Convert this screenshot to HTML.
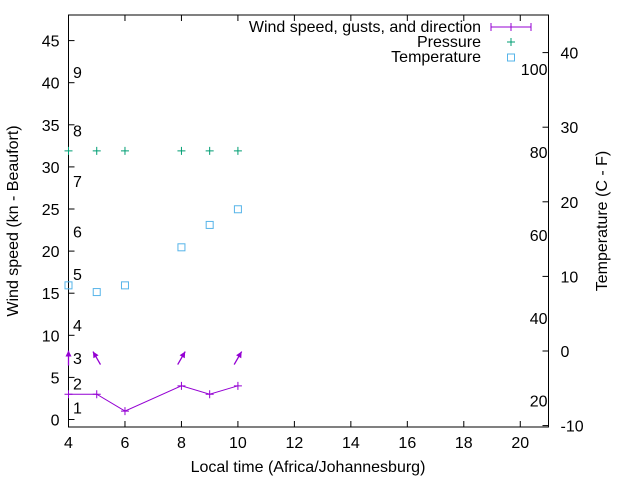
<!DOCTYPE html>
<html><head><meta charset="utf-8"><style>body{margin:0;background:#fff}svg{display:block;font-family:"Liberation Sans",sans-serif}</style></head>
<body>
<svg id="c" width="640" height="480" xmlns="http://www.w3.org/2000/svg"></svg>
<script>
const hours=[4,5,6,8,9,10];
const windKn=[3,3,1,4,3,4];
const pressureW=[31.9,31.9,31.9,31.9,31.9,31.9];
const tempC=[8.8,7.9,8.8,13.9,16.9,19.0];
const arrowHours=[4,5,8,10];
const arrowDir=[0,-30,30,30];
const xTicks=[4,6,8,10,12,14,16,18,20];
const yTicks=[0,5,10,15,20,25,30,35,40,45];
const y2Ticks=[-10,0,10,20,30,40];
const fTicks=[20,40,60,80,100];
const bftLabels=[1,2,3,4,5,6,7,8,9];
const bftPos=[1.4,4.3,7.3,11.2,17.3,22.3,28.3,34.3,41.3];

const FS=16;
const L=68.5,R=548.5,T=15,B=427;
const X=v=>L+(v-4)*(R-L)/17;
const Y=v=>419.5-v*8.42;
const Y2=c=>351-c*7.46;
const s=document.getElementById('c');
function el(t,a,txt){const e=document.createElementNS('http://www.w3.org/2000/svg',t);for(const k in a)e.setAttribute(k,a[k]);if(txt!==undefined)e.textContent=txt;s.appendChild(e);return e;}
let e;
e=el('rect',{x:L,y:T,width:R-L,height:B-T,fill:'none',stroke:'#000','stroke-width':1});


xTicks.forEach(v=>{const x=X(v);
 el('line',{x1:x,x2:x,y1:B,y2:B-6,stroke:'#000'});el('line',{x1:x,x2:x,y1:T,y2:T+6,stroke:'#000'});
 e=el('text',{x:x,y:B+21,'font-size':FS,'text-anchor':'middle'},v);
 
 });
yTicks.forEach(v=>{const y=Y(v);
 el('line',{x1:L,x2:L+6,y1:y,y2:y,stroke:'#000'});
 e=el('text',{x:L-9,y:y+6,'font-size':FS,'text-anchor':'end'},v);
 
 });
y2Ticks.forEach(v=>{const y=Y2(v);
 el('line',{x1:R,x2:R-6,y1:y,y2:y,stroke:'#000'});
 e=el('text',{x:R+12,y:y+6,'font-size':FS},v);
 
 });
fTicks.forEach(f=>{const y=Y2((f-32)*5/9);
 e=el('text',{x:R-1,y:y+6,'font-size':FS,'text-anchor':'end'},f);
 
 });
bftLabels.forEach((b,i)=>{
 e=el('text',{x:73,y:Y(bftPos[i])+6,'font-size':FS},b);
 
 });
let d=hours.map((h,i)=>(i?'L':'M')+X(h)+' '+Y(windKn[i])).join(' ');
e=el('path',{d:d,fill:'none',stroke:'#9400d3','stroke-width':1});


function plus(x,y,c,n){e=el('path',{d:`M${x-4} ${y}h8M${x} ${y-4}v8`,stroke:c,'stroke-width':1});
 
 }
hours.forEach((h,i)=>plus(X(h),Y(windKn[i]),'#9400d3','wind-point'));
hours.forEach((h,i)=>plus(X(h),Y(pressureW[i]),'#009e73','pressure-point'));
hours.forEach((h,i)=>{
 e=el('rect',{x:X(h)-3.5,y:Y2(tempC[i])-3.5,width:7,height:7,fill:'none',stroke:'#56b4e9','stroke-width':1});
 
 });
arrowHours.forEach((h,i)=>{const a=arrowDir[i]*Math.PI/180,cx=X(h),cy=Y(7.3),len=15;
 const dx=Math.sin(a)*len/2,dy=-Math.cos(a)*len/2;
 const x1=cx-dx,y1=cy-dy,x2=cx+dx,y2=cy+dy;
 const g=el('g',{});
 const l=document.createElementNS('http://www.w3.org/2000/svg','line');
 [['x1',x1],['y1',y1],['x2',x2],['y2',y2],['stroke','#9400d3'],['stroke-width',1.3]].forEach(p=>l.setAttribute(p[0],p[1]));g.appendChild(l);
 const ux=dx/(len/2),uy=dy/(len/2),px=-uy,py=ux;
 const p=document.createElementNS('http://www.w3.org/2000/svg','polygon');
 p.setAttribute('points',`${x2},${y2} ${x2-ux*6+px*3},${y2-uy*6+py*3} ${x2-ux*6-px*3},${y2-uy*6-py*3}`);
 p.setAttribute('fill','#9400d3');g.appendChild(p);});
e=el('text',{x:481,y:32,'font-size':FS,'text-anchor':'end'},'Wind speed, gusts, and direction');


e=el('path',{d:'M491 27h40M491 23v8M531 23v8M511 23v8',stroke:'#9400d3'});


e=el('text',{x:481,y:47,'font-size':FS,'text-anchor':'end'},'Pressure');


plus(511,42,'#009e73','legend-pressure-sample');
e=el('text',{x:481,y:62,'font-size':FS,'text-anchor':'end'},'Temperature');


e=el('rect',{x:507.5,y:54,width:7,height:7,fill:'none',stroke:'#56b4e9'});


e=el('text',{x:308,y:472,'font-size':FS,'text-anchor':'middle'},'Local time (Africa/Johannesburg)');


e=el('text',{x:0,y:0,'font-size':FS,'text-anchor':'middle',transform:'translate(18,221) rotate(-90)'},'Wind speed (kn - Beaufort)');


e=el('text',{x:0,y:0,'font-size':FS,'text-anchor':'middle',transform:'translate(607,221) rotate(-90)'},'Temperature (C - F)');


</script>
</body></html>
